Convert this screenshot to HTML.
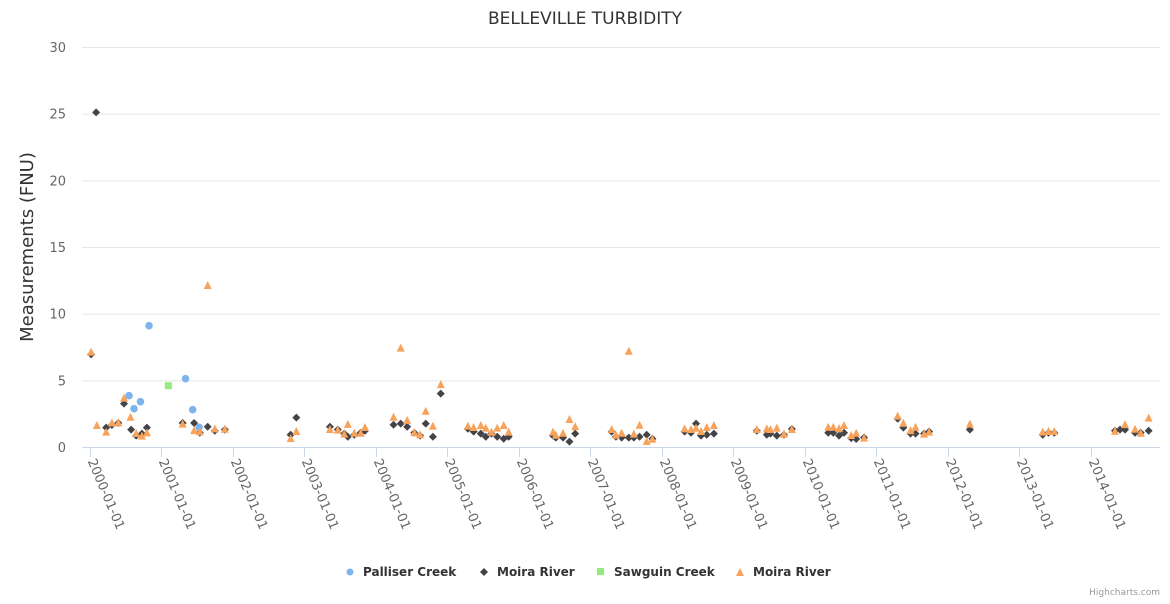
<!DOCTYPE html>
<html><head><meta charset="utf-8"><style>
body{margin:0;background:#fff;font-family:"DejaVu Sans",sans-serif}
</style></head><body>
<svg id="c" width="1170" height="600" xmlns="http://www.w3.org/2000/svg" style="font-family:'DejaVu Sans','Liberation Sans',sans-serif">
<text x="585" y="24" text-anchor="middle" font-size="17" fill="#333">BELLEVILLE TURBIDITY</text>
<text transform="translate(33,247) rotate(-90)" text-anchor="middle" font-size="18" fill="#333">Measurements (FNU)</text>
<g id="grid"></g><g id="xaxis"></g><g id="marks"></g>
<g font-size="12" font-weight="bold" fill="#333">
<g><circle cx="350" cy="572" r="3.5" fill="#7cb5ec"/><text x="363" y="576">Palliser Creek</text></g>
<g><path d="M484 568 L488 572 L484 576 L480 572Z" fill="#434348"/><text x="497" y="576">Moira River</text></g>
<g><rect x="597" y="568" width="7" height="7" fill="#90ed7d"/><text x="614" y="576">Sawguin Creek</text></g>
<g><path d="M740 568 L744 576 L736 576Z" fill="#f7a35c"/><text x="753" y="576">Moira River</text></g>
</g>
<text x="1160" y="595" text-anchor="end" font-size="9" fill="#999">Highcharts.com</text>
</svg>
<script>
const yTicks=[0,5,10,15,20,25,30];
const xTickYears=[0,1,2,3,4,5,6,7,8,9,10,11,12,13,14];
const xTickLabels=["2000-01-01","2001-01-01","2002-01-01","2003-01-01","2004-01-01","2005-01-01","2006-01-01","2007-01-01","2008-01-01","2009-01-01","2010-01-01","2011-01-01","2012-01-01","2013-01-01","2014-01-01"];
const pallierX=[0.55,0.62,0.71,0.83,1.34,1.44,1.53];
const pallierY=[3.85,2.87,3.4,9.1,5.12,2.8,1.48];
const sawguinX=[1.10];
const sawguinY=[4.6];
const moiraDX=[0.02,0.09,0.23,0.31,0.40,0.48,0.58,0.65,0.73,0.80,1.30,1.46,1.54,1.65,1.75,1.89,2.81,2.89,3.36,3.47,3.56,3.61,3.70,3.79,3.85,4.25,4.35,4.44,4.54,4.62,4.70,4.80,4.91,5.29,5.37,5.47,5.54,5.62,5.70,5.79,5.86,6.48,6.52,6.62,6.71,6.79,7.30,7.36,7.44,7.54,7.61,7.69,7.79,7.87,8.32,8.41,8.48,8.55,8.63,8.73,9.33,9.47,9.52,9.61,9.71,9.82,10.33,10.40,10.48,10.55,10.65,10.72,10.83,11.30,11.38,11.48,11.55,11.67,11.74,12.31,13.33,13.41,13.49,14.34,14.41,14.48,14.62,14.70,14.81];
const moiraDY=[6.95,25.1,1.45,1.65,1.8,3.25,1.3,0.85,1.0,1.45,1.8,1.8,1.07,1.52,1.22,1.3,0.92,2.2,1.52,1.3,1.0,0.77,0.92,1.07,1.22,1.67,1.75,1.52,1.07,0.85,1.75,0.77,4.0,1.37,1.15,1.0,0.77,1.0,0.77,0.62,0.77,0.85,0.7,0.7,0.4,1.0,1.15,0.77,0.7,0.7,0.7,0.77,0.92,0.62,1.15,1.07,1.75,0.85,0.92,1.0,1.22,0.92,1.0,0.85,0.92,1.35,1.07,1.07,0.85,1.07,0.67,0.6,0.7,2.12,1.45,1.0,1.0,1.0,1.15,1.3,0.92,1.07,1.07,1.22,1.3,1.3,1.07,1.07,1.22];
const moiraTX=[0.02,0.10,0.23,0.31,0.40,0.48,0.57,0.65,0.73,0.80,1.30,1.46,1.54,1.65,1.75,1.89,2.81,2.89,3.36,3.47,3.56,3.61,3.70,3.79,3.85,4.25,4.35,4.44,4.54,4.62,4.70,4.80,4.91,5.29,5.37,5.47,5.54,5.62,5.70,5.79,5.86,6.48,6.52,6.62,6.71,6.79,7.30,7.36,7.44,7.54,7.61,7.69,7.79,7.87,8.32,8.41,8.48,8.55,8.63,8.73,9.33,9.47,9.52,9.61,9.71,9.82,10.33,10.40,10.48,10.55,10.65,10.72,10.83,11.30,11.38,11.48,11.55,11.67,11.74,12.31,13.33,13.41,13.49,14.34,14.48,14.62,14.70,14.81];
const moiraTY=[7.15,1.65,1.15,1.85,1.85,3.7,2.27,1.05,0.85,1.1,1.75,1.27,1.18,12.15,1.4,1.37,0.67,1.2,1.35,1.3,1.0,1.73,1.07,1.07,1.5,2.27,7.45,2.03,1.12,0.95,2.72,1.6,4.72,1.6,1.5,1.65,1.45,1.15,1.45,1.65,1.15,1.15,0.92,1.07,2.1,1.57,1.35,0.92,1.07,7.22,1.0,1.67,0.45,0.62,1.4,1.35,1.45,1.2,1.5,1.65,1.35,1.4,1.35,1.45,1.0,1.35,1.52,1.52,1.42,1.65,0.9,1.07,0.7,2.35,1.82,1.27,1.52,1.0,1.15,1.75,1.15,1.2,1.2,1.22,1.72,1.37,1.07,2.2];
const NS="http://www.w3.org/2000/svg";
const X0=82,X1=1160;
function xs(t){return 89.7+71.5*t;}
function ys(v){return 447-v*(400/30);}
function mk(tag,attrs,parent){const e=document.createElementNS(NS,tag);for(const k in attrs)e.setAttribute(k,attrs[k]);document.getElementById(parent).appendChild(e);return e;}
yTicks.forEach(v=>{
  const l=mk('line',{x1:X0,x2:X1,y1:ys(v)+0.5,y2:ys(v)+0.5,stroke:v===0?'#ccd6eb':'#e6e6e6','stroke-width':1},'grid');
  
  
  const t=mk('text',{x:66,y:ys(v)+5,'text-anchor':'end','font-size':13,fill:'#666'},'grid');
  t.textContent=v;
  
  
});
xTickYears.forEach((yr,i)=>{
  const x=Math.round(xs(yr))+0.5;
  const l=mk('line',{x1:x,x2:x,y1:447,y2:457,stroke:'#ccd6eb'},'xaxis');
  
  
  const t=mk('text',{transform:`translate(${x-3},${461}) rotate(67)`,'font-size':13,fill:'#666'},'xaxis');
  t.textContent=xTickLabels[i];
  
  
});
pallierX.forEach((t,i)=>{
  const c=mk('circle',{cx:xs(t),cy:ys(pallierY[i]),r:3.8,fill:'#7cb5ec'},'marks');
  
  
});
moiraDX.forEach((t,i)=>{
  const x=xs(t),y=ys(moiraDY[i]);
  const p=mk('path',{d:`M${x} ${y-4}L${x+4} ${y}L${x} ${y+4}L${x-4} ${y}Z`,fill:'#434348'},'marks');
  
  
});
sawguinX.forEach((t,i)=>{
  const r=mk('rect',{x:xs(t)-3.5,y:ys(sawguinY[i])-3.5,width:7,height:7,fill:'#90ed7d'},'marks');
  
  
});
moiraTX.forEach((t,i)=>{
  const x=xs(t),y=ys(moiraTY[i]);
  const p=mk('path',{d:`M${x} ${y-4}L${x+4} ${y+4}L${x-4} ${y+4}Z`,fill:'#f7a35c'},'marks');
  
  
});
</script>
</body></html>
